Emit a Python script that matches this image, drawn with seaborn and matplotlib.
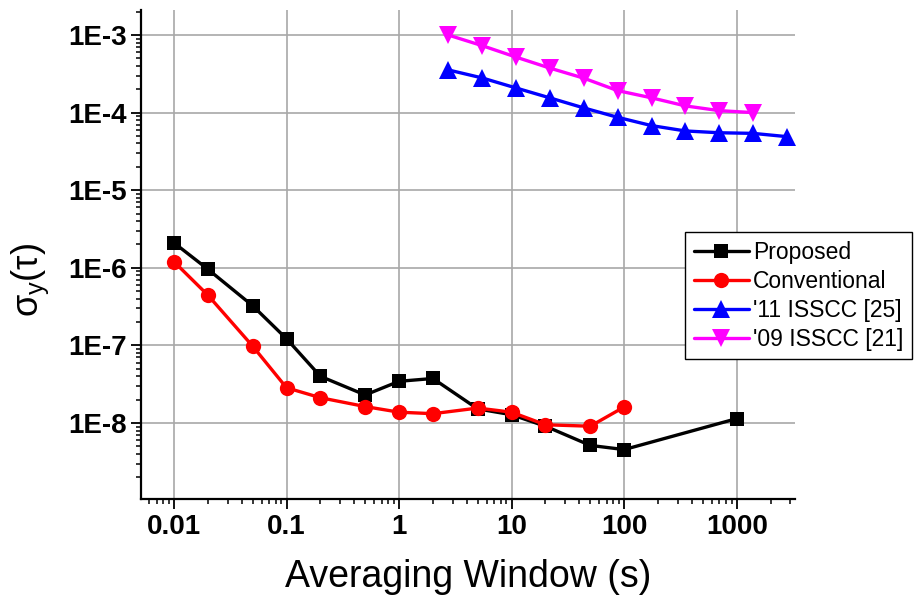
import numpy as np
import pandas as pd
import matplotlib
matplotlib.use("Agg")
import matplotlib.pyplot as plt
from matplotlib.ticker import LogLocator, FixedLocator, FuncFormatter, NullFormatter
import seaborn as sns

# Averaging windows (s) and Allan deviation values for each design
tau_proposed = [0.01, 0.02, 0.05, 0.1, 0.2, 0.5, 1, 2, 5, 10, 20, 50, 100, 1000]
sigma_proposed = [2.1e-6, 9.6e-7, 3.25e-7, 1.22e-7, 4.0e-8, 2.3e-8, 3.45e-8, 3.75e-8,
                  1.52e-8, 1.28e-8, 9.1e-9, 5.15e-9, 4.55e-9, 1.14e-8]

tau_conventional = [0.01, 0.02, 0.05, 0.1, 0.2, 0.5, 1, 2, 5, 10, 20, 50, 100]
sigma_conventional = [1.2e-6, 4.45e-7, 9.8e-8, 2.85e-8, 2.12e-8, 1.63e-8, 1.38e-8, 1.32e-8,
                      1.56e-8, 1.38e-8, 9.5e-9, 9.1e-9, 1.61e-8]

tau_isscc11 = [2.73, 5.46, 10.9, 21.8, 43.7, 87.4, 175, 350, 699, 1398, 2796]
sigma_isscc11 = [3.55e-4, 2.8e-4, 2.08e-4, 1.55e-4, 1.15e-4, 8.7e-5, 6.8e-5, 5.8e-5,
                 5.5e-5, 5.4e-5, 4.9e-5]

tau_isscc09 = [2.73, 5.46, 10.9, 21.8, 43.7, 87.4, 175, 350, 699, 1398]
sigma_isscc09 = [1.0e-3, 7.3e-4, 5.2e-4, 3.75e-4, 2.78e-4, 1.92e-4, 1.55e-4, 1.22e-4,
                 1.06e-4, 1.0e-4]

series_names = ["Proposed", "Conventional", "'11 ISSCC [25]", "'09 ISSCC [21]"]
series_colors = ["#000000", "#ff0000", "#0000ff", "#ff00ff"]
series_markers = ["s", "o", "^", "v"]
series_msize = [10.5, 11, 13, 13]

frames = []
for name, t, s in zip(series_names,
                      [tau_proposed, tau_conventional, tau_isscc11, tau_isscc09],
                      [sigma_proposed, sigma_conventional, sigma_isscc11, sigma_isscc09]):
    frames.append(pd.DataFrame({"tau": t, "sigma": s, "series": name}))
df = pd.concat(frames, ignore_index=True)

sns.set_style("ticks")
plt.rcParams["font.family"] = ["Liberation Sans", "DejaVu Sans"]
plt.rcParams["mathtext.fontset"] = "custom"
plt.rcParams["mathtext.rm"] = "Liberation Sans"
plt.rcParams["mathtext.it"] = "Liberation Sans"
plt.rcParams["text.color"] = "black"
plt.rcParams["axes.labelcolor"] = "black"
plt.rcParams["xtick.color"] = "black"
plt.rcParams["ytick.color"] = "black"

fig = plt.figure(figsize=(9.2, 6.05), dpi=100)
ax = fig.add_axes([0.1533, 0.1752, 0.7109, 0.8083])

for name, color, marker, ms in zip(series_names, series_colors, series_markers, series_msize):
    sub = df[df["series"] == name]
    sns.lineplot(data=sub, x="tau", y="sigma", ax=ax, color=color, marker=marker,
                 markersize=ms, markeredgewidth=0, linewidth=2.4, label=name,
                 estimator=None, sort=False, zorder=3)

ax.set_xscale("log")
ax.set_yscale("log")
ax.set_xlim(0.0051, 3300)
ax.set_ylim(1.05e-9, 2.1e-3)

ax.xaxis.set_major_locator(FixedLocator([0.01, 0.1, 1, 10, 100, 1000]))
ax.xaxis.set_major_formatter(FuncFormatter(lambda v, p: f"{v:g}"))
ax.xaxis.set_minor_locator(LogLocator(base=10, subs=np.arange(2, 10), numticks=20))
ax.xaxis.set_minor_formatter(NullFormatter())

ax.yaxis.set_major_locator(FixedLocator([1e-8, 1e-7, 1e-6, 1e-5, 1e-4, 1e-3]))
ax.yaxis.set_major_formatter(FuncFormatter(lambda v, p: f"1E{int(round(np.log10(v)))}"))
ax.yaxis.set_minor_locator(LogLocator(base=10, subs=np.arange(2, 10), numticks=20))
ax.yaxis.set_minor_formatter(NullFormatter())

ax.grid(True, which="major", color="#a8a8a8", linewidth=1.2, zorder=0)
ax.set_axisbelow(True)

for side in ["top", "right"]:
    ax.spines[side].set_visible(False)
for side in ["left", "bottom"]:
    ax.spines[side].set_color("black")
    ax.spines[side].set_linewidth(1.6)

ax.tick_params(axis="both", which="major", direction="out", length=7, width=1.3,
               colors="black", labelsize=20, pad=3.5)
ax.tick_params(axis="both", which="minor", direction="out", length=3.6, width=1.1,
               colors="black")
for lab in ax.get_xticklabels() + ax.get_yticklabels():
    lab.set_fontweight("bold")

ax.set_xlabel("Averaging Window (s)", fontsize=27, labelpad=14, color="black")
ax.set_ylabel("")
fig.text(30 / 920, 1 - 280 / 605, r"$\sigma_y(\tau)$", fontsize=26, rotation=90,
         ha="center", va="center", color="black")

leg = ax.legend(loc="upper left", bbox_to_anchor=(685 / 920, 1 - 232 / 605),
                bbox_transform=fig.transFigure, fontsize=16.5, frameon=True,
                fancybox=False, edgecolor="black", framealpha=1, borderaxespad=0,
                handlelength=2.4, handletextpad=0.2, labelspacing=0.26, borderpad=0.38)
leg.get_frame().set_linewidth(1.0)
for txt in leg.get_texts():
    txt.set_color("black")

fig.savefig("out.png", dpi=100)
